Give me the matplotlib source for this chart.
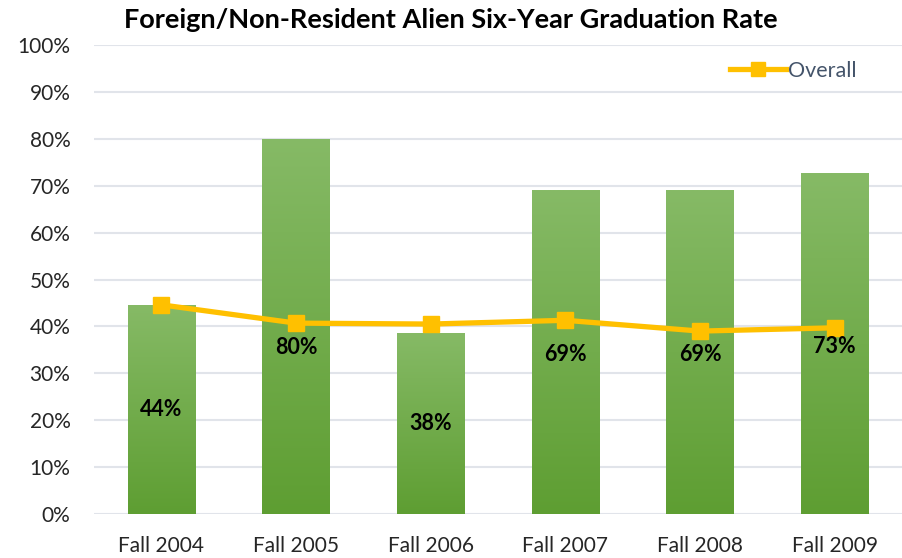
import matplotlib
matplotlib.use("Agg")
import matplotlib.pyplot as plt
import numpy as np
from matplotlib.colors import LinearSegmentedColormap

categories = ["Fall 2004", "Fall 2005", "Fall 2006", "Fall 2007", "Fall 2008", "Fall 2009"]
group_rate = [44.5, 80.0, 38.5, 69.0, 69.0, 72.7]
group_labels = ["44%", "80%", "38%", "69%", "69%", "73%"]
label_pos = [22.2, 35.6, 19.2, 34.1, 34.1, 35.8]
overall = [44.6, 40.7, 40.5, 41.3, 39.0, 39.7]

plt.rcParams['font.family'] = ['Lato', 'DejaVu Sans']

fig = plt.figure(figsize=(9.02, 5.58), dpi=100)
ax = fig.add_axes([94/902, 44/558, 808/902, 469/558])

x = np.arange(len(categories))
bars = ax.bar(x, group_rate, width=0.5, color='#6EAB45', zorder=2)

cmap = LinearSegmentedColormap.from_list('g', ['#5E9E32', '#86BA66'])
grad = np.linspace(0, 1, 256).reshape(-1, 1)
for b in bars:
    bx, by = b.get_x(), b.get_y()
    w, h = b.get_width(), b.get_height()
    im = ax.imshow(grad, cmap=cmap, origin='lower', aspect='auto',
                   extent=[bx, bx + w, by, by + h], zorder=2.1)
    im.set_clip_path(b)

ax.plot(x, overall, color='#FFC000', lw=3.8, marker='s', markersize=11,
        label='Overall', zorder=4)

for xi, lp, lab in zip(x, label_pos, group_labels):
    ax.text(xi, lp, lab, ha='center', va='center', fontsize=15.5,
            fontweight='bold', color='#000000', zorder=5)

ax.set_xlim(-0.5, len(categories) - 0.5)
ax.set_ylim(0, 100)
ax.set_yticks(np.arange(0, 101, 10))
ax.set_yticklabels([f"{v}%" for v in range(0, 101, 10)])
ax.set_xticks(x)
ax.set_xticklabels(categories)
ax.tick_params(axis='both', length=0, labelsize=15, colors='#262626')
ax.tick_params(axis='y', pad=17)
ax.tick_params(axis='x', pad=16)
ax.grid(axis='y', color='#E1E4EA', lw=1.5, zorder=0)
ax.set_axisbelow(True)
for s in ax.spines.values():
    s.set_visible(False)

leg = ax.legend(loc='upper right', bbox_to_anchor=(0.968, 1.008), frameon=False,
                fontsize=15.5, handlelength=2.6, handletextpad=0.1, markerscale=0.9)
for t in leg.get_texts():
    t.set_color('#44546A')

fig.text(0.5, 0.965, "Foreign/Non-Resident Alien Six-Year Graduation Rate",
         ha='center', va='center', fontsize=19.5, fontweight='bold', color='#000000')

fig.savefig('out.png', dpi=100)
